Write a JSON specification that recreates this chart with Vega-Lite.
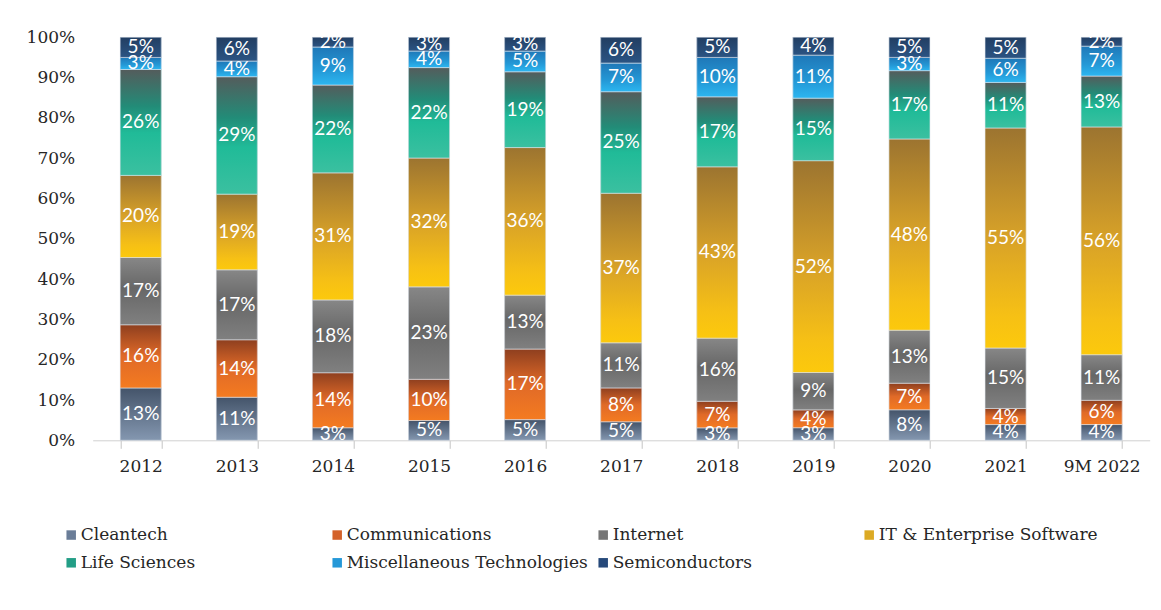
{
  "$schema": "https://vega.github.io/schema/vega-lite/v6.json",
  "width": 1057,
  "height": 403,
  "autosize": {"type": "none"},
  "padding": {"left": 92.7, "top": 37.3, "right": 11.3, "bottom": 169.7},
  "background": "white",
  "config": {"view": {"stroke": null}, "font": "DejaVu Serif"},
  "data": {"values": [
    {"year": "2012", "sector": "Cleantech", "ord": 1, "v": 0.130},
    {"year": "2012", "sector": "Communications", "ord": 2, "v": 0.157},
    {"year": "2012", "sector": "Internet", "ord": 3, "v": 0.167},
    {"year": "2012", "sector": "IT & Enterprise Software", "ord": 4, "v": 0.204},
    {"year": "2012", "sector": "Life Sciences", "ord": 5, "v": 0.263},
    {"year": "2012", "sector": "Miscellaneous Technologies", "ord": 6, "v": 0.030},
    {"year": "2012", "sector": "Semiconductors", "ord": 7, "v": 0.050},
    {"year": "2013", "sector": "Cleantech", "ord": 1, "v": 0.107},
    {"year": "2013", "sector": "Communications", "ord": 2, "v": 0.143},
    {"year": "2013", "sector": "Internet", "ord": 3, "v": 0.174},
    {"year": "2013", "sector": "IT & Enterprise Software", "ord": 4, "v": 0.188},
    {"year": "2013", "sector": "Life Sciences", "ord": 5, "v": 0.292},
    {"year": "2013", "sector": "Miscellaneous Technologies", "ord": 6, "v": 0.039},
    {"year": "2013", "sector": "Semiconductors", "ord": 7, "v": 0.059},
    {"year": "2014", "sector": "Cleantech", "ord": 1, "v": 0.031},
    {"year": "2014", "sector": "Communications", "ord": 2, "v": 0.136},
    {"year": "2014", "sector": "Internet", "ord": 3, "v": 0.180},
    {"year": "2014", "sector": "IT & Enterprise Software", "ord": 4, "v": 0.314},
    {"year": "2014", "sector": "Life Sciences", "ord": 5, "v": 0.217},
    {"year": "2014", "sector": "Miscellaneous Technologies", "ord": 6, "v": 0.094},
    {"year": "2014", "sector": "Semiconductors", "ord": 7, "v": 0.024},
    {"year": "2015", "sector": "Cleantech", "ord": 1, "v": 0.049},
    {"year": "2015", "sector": "Communications", "ord": 2, "v": 0.102},
    {"year": "2015", "sector": "Internet", "ord": 3, "v": 0.229},
    {"year": "2015", "sector": "IT & Enterprise Software", "ord": 4, "v": 0.319},
    {"year": "2015", "sector": "Life Sciences", "ord": 5, "v": 0.224},
    {"year": "2015", "sector": "Miscellaneous Technologies", "ord": 6, "v": 0.041},
    {"year": "2015", "sector": "Semiconductors", "ord": 7, "v": 0.034},
    {"year": "2016", "sector": "Cleantech", "ord": 1, "v": 0.051},
    {"year": "2016", "sector": "Communications", "ord": 2, "v": 0.174},
    {"year": "2016", "sector": "Internet", "ord": 3, "v": 0.133},
    {"year": "2016", "sector": "IT & Enterprise Software", "ord": 4, "v": 0.364},
    {"year": "2016", "sector": "Life Sciences", "ord": 5, "v": 0.187},
    {"year": "2016", "sector": "Miscellaneous Technologies", "ord": 6, "v": 0.051},
    {"year": "2016", "sector": "Semiconductors", "ord": 7, "v": 0.034},
    {"year": "2017", "sector": "Cleantech", "ord": 1, "v": 0.046},
    {"year": "2017", "sector": "Communications", "ord": 2, "v": 0.084},
    {"year": "2017", "sector": "Internet", "ord": 3, "v": 0.112},
    {"year": "2017", "sector": "IT & Enterprise Software", "ord": 4, "v": 0.371},
    {"year": "2017", "sector": "Life Sciences", "ord": 5, "v": 0.252},
    {"year": "2017", "sector": "Miscellaneous Technologies", "ord": 6, "v": 0.071},
    {"year": "2017", "sector": "Semiconductors", "ord": 7, "v": 0.064},
    {"year": "2018", "sector": "Cleantech", "ord": 1, "v": 0.031},
    {"year": "2018", "sector": "Communications", "ord": 2, "v": 0.066},
    {"year": "2018", "sector": "Internet", "ord": 3, "v": 0.157},
    {"year": "2018", "sector": "IT & Enterprise Software", "ord": 4, "v": 0.426},
    {"year": "2018", "sector": "Life Sciences", "ord": 5, "v": 0.174},
    {"year": "2018", "sector": "Miscellaneous Technologies", "ord": 6, "v": 0.098},
    {"year": "2018", "sector": "Semiconductors", "ord": 7, "v": 0.050},
    {"year": "2019", "sector": "Cleantech", "ord": 1, "v": 0.031},
    {"year": "2019", "sector": "Communications", "ord": 2, "v": 0.044},
    {"year": "2019", "sector": "Internet", "ord": 3, "v": 0.092},
    {"year": "2019", "sector": "IT & Enterprise Software", "ord": 4, "v": 0.522},
    {"year": "2019", "sector": "Life Sciences", "ord": 5, "v": 0.154},
    {"year": "2019", "sector": "Miscellaneous Technologies", "ord": 6, "v": 0.106},
    {"year": "2019", "sector": "Semiconductors", "ord": 7, "v": 0.044},
    {"year": "2020", "sector": "Cleantech", "ord": 1, "v": 0.076},
    {"year": "2020", "sector": "Communications", "ord": 2, "v": 0.066},
    {"year": "2020", "sector": "Internet", "ord": 3, "v": 0.132},
    {"year": "2020", "sector": "IT & Enterprise Software", "ord": 4, "v": 0.476},
    {"year": "2020", "sector": "Life Sciences", "ord": 5, "v": 0.170},
    {"year": "2020", "sector": "Miscellaneous Technologies", "ord": 6, "v": 0.033},
    {"year": "2020", "sector": "Semiconductors", "ord": 7, "v": 0.050},
    {"year": "2021", "sector": "Cleantech", "ord": 1, "v": 0.039},
    {"year": "2021", "sector": "Communications", "ord": 2, "v": 0.040},
    {"year": "2021", "sector": "Internet", "ord": 3, "v": 0.150},
    {"year": "2021", "sector": "IT & Enterprise Software", "ord": 4, "v": 0.546},
    {"year": "2021", "sector": "Life Sciences", "ord": 5, "v": 0.113},
    {"year": "2021", "sector": "Miscellaneous Technologies", "ord": 6, "v": 0.060},
    {"year": "2021", "sector": "Semiconductors", "ord": 7, "v": 0.052},
    {"year": "9M 2022", "sector": "Cleantech", "ord": 1, "v": 0.039},
    {"year": "9M 2022", "sector": "Communications", "ord": 2, "v": 0.060},
    {"year": "9M 2022", "sector": "Internet", "ord": 3, "v": 0.113},
    {"year": "9M 2022", "sector": "IT & Enterprise Software", "ord": 4, "v": 0.564},
    {"year": "9M 2022", "sector": "Life Sciences", "ord": 5, "v": 0.126},
    {"year": "9M 2022", "sector": "Miscellaneous Technologies", "ord": 6, "v": 0.074},
    {"year": "9M 2022", "sector": "Semiconductors", "ord": 7, "v": 0.022}
  ]},
  "encoding": {
    "x": {
      "field": "year", "type": "nominal", "sort": null,
      "scale": {"paddingInner": 0.573, "paddingOuter": 0.2865},
      "axis": {
        "title": null, "labelAngle": 0, "domainColor": "#d0d0d0", "ticks": true, "tickColor": "#c4c4c4",
        "tickWidth": 1, "tickSize": 8, "tickBand": "extent", "labelFont": "DejaVu Serif", "labelFontSize": 17,
        "labelColor": "#262626", "labelPadding": 10, "grid": false
      }
    },
    "y": {
      "field": "v", "type": "quantitative", "stack": "normalize",
      "scale": {"domain": [0, 1]},
      "axis": {
        "title": null, "domain": false, "ticks": false, "grid": false,
        "values": [0, 0.1, 0.2, 0.3, 0.4, 0.5, 0.6, 0.7, 0.8, 0.9, 1],
        "format": ".0%", "labelPadding": 18, "labelFont": "DejaVu Serif",
        "labelFontSize": 17, "labelColor": "#262626"
      }
    },
    "order": {"field": "ord", "type": "quantitative"}
  },
  "layer": [
    {
      "mark": {"type": "bar"},
      "encoding": {
        "color": {
          "field": "sector", "type": "nominal",
          "scale": {
            "domain": ["Cleantech", "Communications", "Internet", "IT & Enterprise Software", "Life Sciences", "Miscellaneous Technologies", "Semiconductors"],
            "range": ["#6a7d98", "#d4622a", "#767676", "#dcaa24", "#239e86", "#2598d8", "#26497a"]
          },
          "legend": {
            "title": null, "orient": "none", "legendX": -30, "legendY": 489,
            "direction": "horizontal", "columns": 4, "gridAlign": "all",
            "columnPadding": 7, "rowPadding": 10, "padding": 0,
            "symbolType": "square", "symbolSize": 90, "symbolStrokeWidth": 0,
            "labelOffset": 1, "labelLimit": 400, "labelFont": "DejaVu Serif",
            "labelFontSize": 17, "labelColor": "#262626"
          }
        }
      }
    },
    {
      "mark": {"type": "bar", "stroke": "#e3e8ef", "strokeWidth": 0.6},
      "encoding": {
        "detail": {"field": "sector"},
        "color": {
          "condition": [
            {"test": "datum.sector === 'Cleantech'", "value": {"gradient": "linear", "x1": 0, "y1": 0, "x2": 0, "y2": 1, "stops": [{"offset": 0, "color": "#44546a"}, {"offset": 1, "color": "#8497b0"}]}},
            {"test": "datum.sector === 'Communications'", "value": {"gradient": "linear", "x1": 0, "y1": 0, "x2": 0, "y2": 1, "stops": [{"offset": 0, "color": "#8e3f1f"}, {"offset": 0.5, "color": "#e06a28"}, {"offset": 1, "color": "#f47b20"}]}},
            {"test": "datum.sector === 'Internet'", "value": {"gradient": "linear", "x1": 0, "y1": 0, "x2": 0, "y2": 1, "stops": [{"offset": 0, "color": "#878787"}, {"offset": 0.45, "color": "#676767"}, {"offset": 1, "color": "#808080"}]}},
            {"test": "datum.sector === 'IT & Enterprise Software'", "value": {"gradient": "linear", "x1": 0, "y1": 0, "x2": 0, "y2": 1, "stops": [{"offset": 0, "color": "#9c7430"}, {"offset": 0.5, "color": "#d8a228"}, {"offset": 0.85, "color": "#f6c015"}, {"offset": 1, "color": "#fcc90c"}]}},
            {"test": "datum.sector === 'Life Sciences'", "value": {"gradient": "linear", "x1": 0, "y1": 0, "x2": 0, "y2": 1, "stops": [{"offset": 0, "color": "#545c5c"}, {"offset": 0.35, "color": "#228c78"}, {"offset": 0.6, "color": "#20bb98"}, {"offset": 1, "color": "#3bc0a0"}]}},
            {"test": "datum.sector === 'Miscellaneous Technologies'", "value": {"gradient": "linear", "x1": 0, "y1": 0, "x2": 0, "y2": 1, "stops": [{"offset": 0, "color": "#1f78b8"}, {"offset": 0.6, "color": "#2498d6"}, {"offset": 1, "color": "#2cb6f0"}]}}
          ],
          "value": {"gradient": "linear", "x1": 0, "y1": 0, "x2": 0, "y2": 1, "stops": [{"offset": 0, "color": "#223e62"}, {"offset": 1, "color": "#2b5483"}]}
        }
      }
    },
    {
      "mark": {"type": "text", "color": "white", "font": "Lato", "fontSize": 19, "baseline": "middle", "align": "center"},
      "encoding": {
        "y": {"field": "v", "type": "quantitative", "stack": "normalize", "bandPosition": 0.5},
        "detail": {"field": "sector"},
        "text": {"field": "v", "type": "quantitative", "format": ".0%"}
      }
    }
  ]
}
